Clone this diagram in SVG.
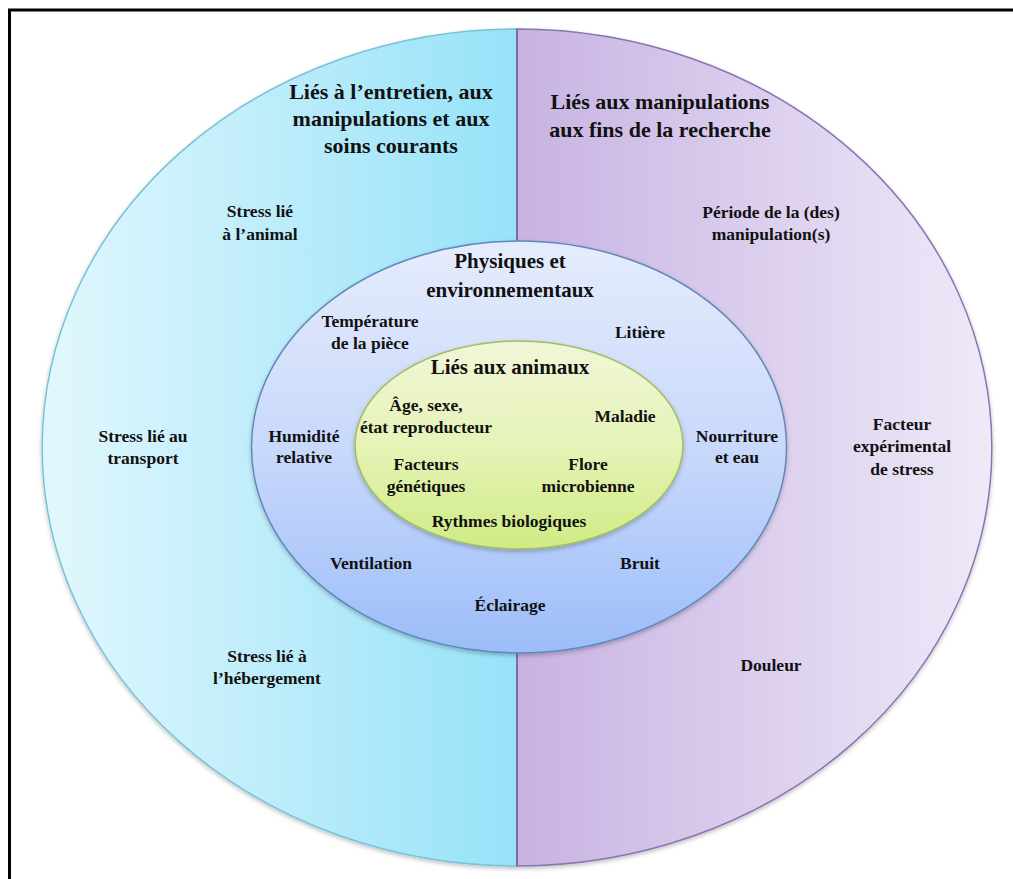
<svg xmlns="http://www.w3.org/2000/svg" width="1013" height="879" viewBox="0 0 1013 879">
  <defs>
    <linearGradient id="gLeft" gradientUnits="userSpaceOnUse" x1="42" y1="0" x2="517" y2="0">
      <stop offset="0" stop-color="#e2f7fd"/>
      <stop offset="1" stop-color="#96e2f8"/>
    </linearGradient>
    <linearGradient id="gRight" gradientUnits="userSpaceOnUse" x1="518" y1="0" x2="992" y2="0">
      <stop offset="0" stop-color="#c7b3e2"/>
      <stop offset="1" stop-color="#efe9f8"/>
    </linearGradient>
    <linearGradient id="gMid" x1="0" y1="0" x2="0" y2="1">
      <stop offset="0" stop-color="#e5ecfc"/>
      <stop offset="0.5" stop-color="#c9d9fb"/>
      <stop offset="1" stop-color="#9cbdf9"/>
    </linearGradient>
    <linearGradient id="gInner" x1="0" y1="0" x2="0" y2="1">
      <stop offset="0" stop-color="#f1f6d8"/>
      <stop offset="0.5" stop-color="#e6f3b8"/>
      <stop offset="1" stop-color="#d0eb84"/>
    </linearGradient>
    <filter id="shadow" x="-5%" y="-5%" width="110%" height="112%">
      <feDropShadow dx="0" dy="2" stdDeviation="2" flood-color="#000" flood-opacity="0.25"/>
    </filter>
  </defs>
  <style>
    text { font-family: "Liberation Serif", "Times New Roman", serif; font-weight: bold; fill: #111; text-anchor: middle; }
    .h1 { font-size: 22px; }
    .h2 { font-size: 21px; }
    .it { font-size: 17.5px; }
  </style>

  <rect x="0" y="0" width="1013" height="879" fill="#fff"/>
  <!-- frame: only the left and top edges fall inside the page -->
  <rect x="9.5" y="10" width="1010" height="880" fill="none" stroke="#000" stroke-width="3"/>

  <!-- outer ring, split into two halves -->
  <g id="outer-ring" filter="url(#shadow)">
    <path id="half-left" d="M517 29 A475 418.5 0 0 0 517 866 Z" fill="url(#gLeft)" stroke="#78c2d8" stroke-width="1.5"/>
    <path id="half-right" d="M517 29 A475 418.5 0 0 1 517 866 Z" fill="url(#gRight)" stroke="#8a74b3" stroke-width="1.5"/>
    <line x1="517" y1="29" x2="517" y2="866" stroke="#7d6da6" stroke-width="2"/>
  </g>

  <!-- middle ring -->
  <g id="middle-ring" filter="url(#shadow)">
    <ellipse cx="519" cy="447" rx="267.5" ry="206" fill="url(#gMid)" stroke="#5f88bd" stroke-width="1.5"/>
  </g>

  <!-- inner core -->
  <g id="inner-core" filter="url(#shadow)">
    <ellipse cx="519" cy="445" rx="164" ry="104" fill="url(#gInner)" stroke="#9fbf5e" stroke-width="1.5"/>
  </g>

  <!-- left half labels -->
  <g id="left-labels">
    <text class="h1" x="391" y="99">Liés à l’entretien,  aux</text>
    <text class="h1" x="391" y="126">manipulations et aux</text>
    <text class="h1" x="391" y="153">soins courants</text>
    <text class="it" x="260" y="217">Stress lié</text>
    <text class="it" x="260" y="240">à l’animal</text>
    <text class="it" x="143" y="442">Stress lié au</text>
    <text class="it" x="143" y="464">transport</text>
    <text class="it" x="267" y="662">Stress lié à</text>
    <text class="it" x="267" y="684">l’hébergement</text>
  </g>

  <!-- right half labels -->
  <g id="right-labels">
    <text class="h1" x="660" y="109">Liés aux manipulations</text>
    <text class="h1" x="660" y="137">aux fins de la recherche</text>
    <text class="it" x="771" y="218">Période de la (des)</text>
    <text class="it" x="771" y="240">manipulation(s)</text>
    <text class="it" x="902" y="430">Facteur</text>
    <text class="it" x="902" y="452">expérimental</text>
    <text class="it" x="902" y="475">de stress</text>
    <text class="it" x="771" y="671">Douleur</text>
  </g>

  <!-- middle ring labels -->
  <g id="middle-labels">
    <text class="h2" x="510" y="268">Physiques et</text>
    <text class="h2" x="510" y="297">environnementaux</text>
    <text class="it" x="370" y="327">Température</text>
    <text class="it" x="370" y="349">de la pièce</text>
    <text class="it" x="640" y="338">Litière</text>
    <text class="it" x="304" y="442">Humidité</text>
    <text class="it" x="304" y="463">relative</text>
    <text class="it" x="737" y="442">Nourriture</text>
    <text class="it" x="737" y="463">et eau</text>
    <text class="it" x="371" y="569">Ventilation</text>
    <text class="it" x="640" y="569">Bruit</text>
    <text class="it" x="510" y="611">Éclairage</text>
  </g>

  <!-- inner core labels -->
  <g id="inner-labels">
    <text class="h2" x="510" y="374">Liés aux animaux</text>
    <text class="it" x="426" y="411">Âge, sexe,</text>
    <text class="it" x="426" y="433">état reproducteur</text>
    <text class="it" x="625" y="422">Maladie</text>
    <text class="it" x="426" y="470">Facteurs</text>
    <text class="it" x="426" y="492">génétiques</text>
    <text class="it" x="588" y="470">Flore</text>
    <text class="it" x="588" y="492">microbienne</text>
    <text class="it" x="509" y="527">Rythmes biologiques</text>
  </g>
</svg>
